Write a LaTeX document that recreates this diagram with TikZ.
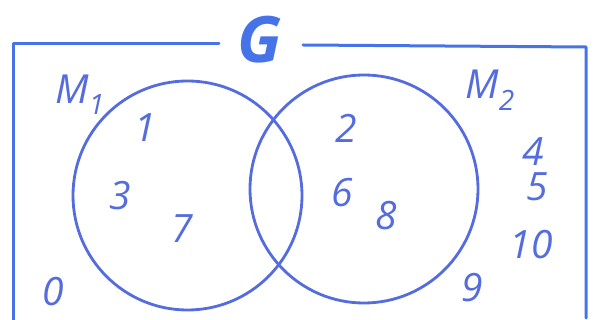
\documentclass[tikz,border=0pt]{standalone}
\usepackage{fontspec}
\setmainfont{Open Sans}
\definecolor{pen}{RGB}{84,108,222}
\definecolor{penb}{RGB}{70,115,232}
\begin{document}
\begin{tikzpicture}[x=1pt,y=-1pt,
  line cap=round,line join=round,
  setline/.style={draw=pen,line width=2.8pt},
  framel/.style={draw=penb,line width=3pt},
  elem/.style={text=pen,inner sep=0pt,font=\fontsize{39}{39}\itshape\selectfont},
  setname/.style={text=pen,inner sep=0pt,font=\fontsize{40}{40}\itshape\selectfont},
  ground/.style={text=penb,inner sep=0pt,font=\fontsize{64}{64}\itshape\bfseries\selectfont}]
\useasboundingbox (0,0) rectangle (595,320);
% universe frame
\coordinate (tl) at (13,44);
\coordinate (tr) at (586,47);
\coordinate (bl) at (13,320);
\coordinate (br) at (586,318);
\node[ground] (G) at (260,40) {G};
\draw[framel] (bl) -- (tl) -- (219,44);
\draw[framel] (303,45) -- (tr) -- (br);
% sets
\node[setline,circle,minimum size=229pt,inner sep=0pt] (M1c) at (187.5,195.5) {};
\node[setline,circle,minimum size=228pt,inner sep=0pt] (M2c) at (364,189) {};
\node[setname] (M1) at (80,95) {M\textsubscript{1}};
\node[setname] (M2) at (490,90) {M\textsubscript{2}};
% elements
\node[elem] (e1) at (145,128) {1};
\node[elem] (e3) at (120,196) {3};
\node[elem] (e7) at (182,229) {7};
\node[elem] (e0) at (53,292) {0};
\node[elem] (e2) at (346,128) {2};
\node[elem] (e6) at (342,193) {6};
\node[elem] (e8) at (386,216) {8};
\node[elem] (e4) at (533,152) {4};
\node[elem] (e5) at (537,187) {5};
\node[elem] (e10) at (531,245) {10};
\node[elem] (e9) at (472,288) {9};
\end{tikzpicture}
\end{document}
